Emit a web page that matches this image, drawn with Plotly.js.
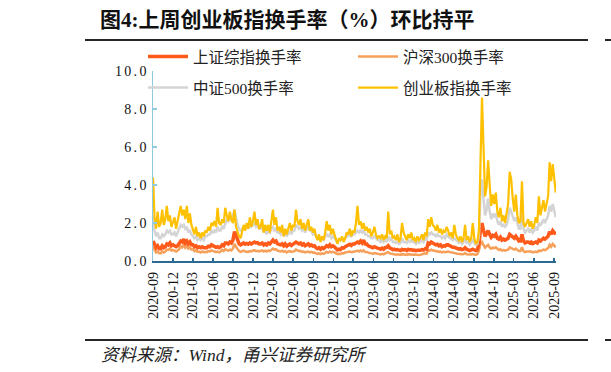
<!DOCTYPE html>
<html><head><meta charset="utf-8">
<script src="https://cdn.plot.ly/plotly-3.0.1.min.js"></script>
<style>
html,body{margin:0;padding:0;background:#fff;}
#wrap{position:relative;width:611px;height:372px;}
#chart{width:611px;height:372px;}
.rule{position:absolute;height:1.6px;background:#262626;z-index:20;}
.ytick text{letter-spacing:2.3px;}
</style>
</head><body><div id="wrap"><div id="chart"></div>
<div class="rule" style="left:85px;width:503px;top:39px"></div>
<div class="rule" style="left:605px;width:6px;top:39px"></div>
<div class="rule" style="left:85px;width:503px;top:339px"></div>
<div class="rule" style="left:605px;width:6px;top:339px"></div>
</div>
<script>
const startDate = '2020-09-01';
const seriesNames = ['上证综指换手率','沪深300换手率','中证500换手率','创业板指换手率'];
const chartTitle = '图4:上周创业板指换手率（%）环比持平';
const sourceText = '资料来源：Wind，甬兴证券研究所';

// weekly values, one line per month
const shComp = [
1.05,0.85,0.7,0.8,0.65, 0.65,0.8,0.7,0.75, 0.9,0.85,0.95,0.8, 0.85,0.8,0.75,0.8,0.9,
1.05,1.0,1.15,0.95, 1.05,0.9,1.0,0.85, 0.85,0.75,0.8,0.7,0.75, 0.7,0.75,0.7,0.72, 0.7,0.78,0.75,0.85,
0.8,0.78,0.72,0.75,0.7, 0.75,0.85,0.8,0.95, 0.95,0.9,1.0,0.95,1.1, 1.55,1.35,1.05,0.9, 0.85,0.9,0.95,0.88,
0.92,0.88,0.95,0.9,0.97, 1.0,0.95,0.97,0.9,
0.9,0.95,0.85,0.9, 0.85,0.95,0.9,1.0, 1.1,1.0,1.05,0.9,0.88, 0.85,0.9,0.8,0.9, 0.78,0.85,0.9,0.82,0.88,
0.9,1.0,0.95,0.9, 0.95,0.85,0.9,0.8, 0.85,0.9,0.8,0.85,0.78, 0.8,0.7,0.65,0.7, 0.62,0.7,0.65,0.72,
0.8,0.75,0.85,0.75,0.8, 0.75,0.65,0.58,0.62,
0.6,0.7,0.68,0.75,0.8, 0.8,0.88,0.82,0.9, 0.9,0.95,1.0,0.95, 1.05,0.95,1.1,0.9, 0.9,0.8,0.78,0.72,0.7,
0.75,0.7,0.68,0.66, 0.62,0.68,0.62,0.7, 0.72,0.8,0.68,0.65,0.6, 0.62,0.58,0.6,0.55, 0.55,0.62,0.58,0.6,0.55,
0.62,0.58,0.6,0.56, 0.58,0.54,0.56,0.55,
0.56,0.6,0.58,0.65,0.62, 0.95,0.9,1.0,0.92, 0.9,0.85,0.88,0.8, 0.85,0.75,0.8,0.78,0.85, 0.85,0.8,0.78,0.72,
0.72,0.68,0.65,0.62, 0.65,0.6,0.62,0.7,0.62, 0.6,0.55,0.58,0.62, 0.58,0.55,0.6,0.9, 1.6,2.0,1.6,1.3,1.45,
1.6,1.4,1.25,1.35, 1.3,1.4,1.2,1.15,1.25,
1.1,1.15,1.1,1.15, 1.2,1.4,1.35,1.25, 1.2,1.3,1.15,1.05, 1.05,1.4,1.05,0.95,1.0, 1.0,0.95,1.0,0.92,
0.95,1.0,0.95,1.1, 1.05,1.1,1.2,1.15,1.25, 1.3,1.55,1.4,1.6, 1.5,1.4
];
const hs300 = [
0.75,0.55,0.45,0.5,0.42, 0.4,0.5,0.45,0.5, 0.6,0.58,0.65,0.55, 0.58,0.55,0.5,0.55,0.62,
0.78,0.72,0.85,0.7, 0.8,0.65,0.72,0.6, 0.62,0.52,0.56,0.48,0.5, 0.45,0.5,0.46,0.48, 0.46,0.52,0.5,0.56,
0.52,0.5,0.47,0.5,0.46, 0.5,0.58,0.52,0.62, 0.58,0.55,0.6,0.56,0.65, 0.9,0.75,0.6,0.52, 0.48,0.5,0.55,0.5,
0.5,0.48,0.52,0.5,0.55, 0.56,0.52,0.54,0.5,
0.52,0.56,0.5,0.54, 0.5,0.56,0.52,0.58, 0.65,0.6,0.62,0.54,0.52, 0.5,0.54,0.48,0.52, 0.45,0.5,0.52,0.48,0.5,
0.52,0.6,0.56,0.52, 0.54,0.48,0.5,0.45, 0.48,0.5,0.45,0.48,0.44, 0.45,0.4,0.37,0.4, 0.36,0.4,0.37,0.42,
0.48,0.44,0.5,0.45,0.48, 0.45,0.4,0.36,0.38,
0.37,0.42,0.4,0.45,0.48, 0.47,0.5,0.46,0.5, 0.5,0.52,0.55,0.5, 0.55,0.5,0.56,0.48, 0.48,0.44,0.42,0.4,0.38,
0.42,0.4,0.38,0.37, 0.35,0.38,0.35,0.4, 0.42,0.46,0.4,0.38,0.35, 0.36,0.33,0.35,0.32, 0.32,0.36,0.34,0.35,0.32,
0.36,0.34,0.35,0.33, 0.34,0.32,0.33,0.32,
0.33,0.36,0.35,0.4,0.38, 0.58,0.55,0.6,0.55, 0.55,0.5,0.52,0.48, 0.5,0.45,0.48,0.46,0.5, 0.5,0.47,0.46,0.42,
0.42,0.4,0.38,0.36, 0.38,0.35,0.36,0.42,0.36, 0.35,0.32,0.34,0.37, 0.34,0.32,0.36,0.55, 0.9,1.0,0.85,0.7,0.78,
0.85,0.72,0.65,0.7, 0.68,0.72,0.62,0.58,0.62,
0.55,0.58,0.55,0.58, 0.6,0.72,0.68,0.62, 0.6,0.65,0.56,0.52, 0.52,0.72,0.52,0.47,0.5, 0.5,0.47,0.5,0.45,
0.47,0.5,0.47,0.55, 0.52,0.56,0.6,0.57,0.62, 0.68,0.85,0.75,0.9, 0.8,0.72
];
const zz500 = [
2.4,1.6,1.3,1.5,1.2, 1.2,1.4,1.3,1.4, 1.6,1.5,1.6,1.4, 1.4,1.5,1.3,1.5,1.7,
1.9,1.8,1.9,1.7, 1.8,1.5,1.6,1.4, 1.3,1.2,1.3,1.1,1.2, 1.1,1.2,1.1,1.3, 1.3,1.4,1.4,1.6,
1.5,1.6,1.5,1.8,1.6, 1.6,1.8,1.7,2.0, 2.2,2.1,2.3,2.1,2.4, 2.7,2.3,1.9,1.7, 1.6,1.7,1.8,1.7,
1.9,1.7,1.9,1.8,1.9, 2.0,1.8,1.9,1.7,
1.7,1.8,1.5,1.6, 1.4,1.6,1.5,1.7, 1.8,1.6,1.7,1.5,1.5, 1.4,1.6,1.3,1.5, 1.3,1.5,1.6,1.4,1.6,
1.6,1.9,1.8,1.7, 1.8,1.6,1.7,1.5, 1.7,1.8,1.6,1.6,1.4, 1.5,1.3,1.2,1.3, 1.1,1.2,1.1,1.3,
1.4,1.3,1.4,1.2,1.3, 1.2,1.1,1.0,1.1,
1.1,1.2,1.1,1.2,1.3, 1.3,1.4,1.3,1.4, 1.4,1.5,1.6,1.5, 1.6,1.5,1.6,1.4, 1.4,1.3,1.3,1.2,1.2,
1.3,1.2,1.1,1.1, 1.0,1.1,1.0,1.1, 1.0,1.3,1.1,1.2,1.0, 1.0,0.95,1.0,0.9, 0.95,1.2,1.0,1.0,0.95,
1.1,1.0,1.1,1.0, 1.0,0.9,1.0,0.95,
1.0,1.1,1.0,1.2,1.1, 1.5,1.4,1.5,1.4, 1.4,1.3,1.4,1.3, 1.3,1.2,1.3,1.2,1.4, 1.3,1.2,1.2,1.1,
1.2,1.1,1.0,0.95, 1.0,0.9,1.0,1.2,0.95, 1.0,0.85,0.95,1.1, 0.95,0.85,0.9,1.3, 3.4,4.3,3.3,2.4,2.7,
3.3,2.6,2.2,2.5, 2.3,2.5,2.1,1.9,2.1,
1.8,1.9,1.8,1.9, 2.2,2.8,2.6,2.3, 2.1,2.3,1.9,1.7, 1.7,2.6,1.7,1.5,1.6, 1.7,1.5,1.7,1.5,
1.6,1.8,1.6,2.0, 1.9,2.0,2.2,2.0,2.2, 2.4,2.9,2.6,3.0, 2.6,2.3
];
const cyb = [
4.4,2.3,1.7,2.6,1.8, 2.0,2.7,1.9,2.2, 2.9,2.1,2.4,1.8, 2.0,2.3,1.7,2.1,2.5,
2.9,2.4,2.7,2.2, 2.9,2.0,2.5,1.9, 1.7,1.4,1.8,1.3,1.5, 1.2,1.5,1.3,1.6, 1.5,1.8,1.6,2.0,
1.9,2.1,1.8,2.8,2.0, 1.9,2.2,2.0,2.8, 2.4,2.1,2.6,2.2,2.0, 2.7,1.8,1.5,1.3, 1.2,1.6,1.9,1.6,
2.0,1.7,2.3,1.8,2.1, 2.6,1.9,2.2,1.7,
1.8,2.2,1.5,1.9, 1.6,1.9,1.5,2.1, 2.7,1.9,2.3,1.6,1.8, 1.5,1.9,1.3,1.7, 1.4,1.8,2.0,1.6,1.9,
1.8,2.7,2.1,1.9, 2.2,1.7,2.0,1.6, 1.9,2.2,1.6,1.8,1.5, 1.7,1.3,1.1,1.4, 1.0,1.3,1.1,1.5,
2.1,1.6,1.9,1.4,1.7, 1.4,1.1,0.9,1.2,
1.1,1.3,1.0,1.2,1.5, 1.4,1.7,1.3,1.6, 1.5,2.0,2.9,1.9, 2.1,1.7,2.0,1.6, 1.8,1.5,1.7,1.3,1.5,
1.8,1.4,1.2,1.3, 1.2,1.4,1.1,1.3, 1.2,2.6,1.4,1.6,1.2, 1.3,1.1,1.4,1.0, 1.2,2.0,1.5,1.3,1.1,
1.4,1.2,1.5,1.1, 1.2,1.0,1.3,1.1,
1.2,1.4,1.1,1.5,1.3, 2.2,1.8,2.3,1.9, 1.8,1.6,1.9,1.5, 1.7,1.4,1.6,1.5,1.8, 1.6,1.3,1.5,1.2,
1.9,1.4,1.2,1.1, 1.3,1.0,1.2,1.9,1.1, 1.3,1.0,1.2,2.0, 1.2,0.9,1.0,1.6, 5.0,8.6,6.0,3.4,3.9,
5.3,4.0,2.9,3.5, 3.0,3.6,2.6,2.3,2.8,
2.1,2.4,2.0,2.6, 3.0,4.7,4.3,3.3, 2.6,3.5,2.4,2.0, 2.1,4.2,2.0,1.8,2.0, 2.2,1.8,2.1,1.7,
1.9,2.3,2.0,3.4, 2.4,2.8,3.2,2.6,3.0, 3.4,5.2,4.2,5.1, 4.3,3.6
];

function weeklyDates(start, n) {
  const out = []; const d0 = new Date(start + 'T00:00:00Z');
  for (let i = 0; i < n; i++) { const d = new Date(d0.getTime() + i * 7 * 86400000); out.push(d.toISOString().slice(0, 10)); }
  return out;
}

const W = 611, H = 372;
const L = 153, R = 556, T = 71, B = 261;
const px = x => (x - L) / (R - L);
const py = y => (B - y) / (B - T);
const serif = 'Liberation Serif, Noto Sans CJK SC, serif';

const colors = ['#FF5A1A', '#F6A05A', '#D4D4D4', '#FFC000'];
const widths = [3.5, 2.5, 2.5, 2.2];
const data = [shComp, hs300, zz500, cyb];
const legendIds = ['legend', 'legend2', 'legend3', 'legend4'];
const legendPos = [[143, 57], [353, 57], [143, 88], [353, 88]];
const drawOrder = [1, 0, 2, 3];

const traces = drawOrder.map(i => ({
  type: 'scatter', mode: 'lines', name: seriesNames[i],
  x: weeklyDates(startDate, data[i].length), y: data[i],
  line: {color: colors[i], width: widths[i]},
  legend: legendIds[i]
}));

const layout = {
  width: W, height: H,
  margin: {l: L, r: W - R, t: T, b: H - B, pad: 0, autoexpand: false},
  paper_bgcolor: 'rgba(0,0,0,0)', plot_bgcolor: 'rgba(0,0,0,0)',
  showlegend: true,
  title: {text: chartTitle, xref: 'container', yref: 'container', x: 100 / W, xanchor: 'left',
          y: 1 - 20 / H, yanchor: 'middle', automargin: false,
          font: {family: serif, size: 21, color: '#111', weight: 'bold'}},
  xaxis: {
    type: 'date', range: ['2020-09-01', '2025-09-10'], tick0: '2020-09-01', dtick: 'M3',
    tickformat: '%Y-%m', tickangle: -90, ticks: 'inside', ticklen: 3, tickwidth: 1.5,
    tickcolor: '#2A6A94', showline: true, linecolor: '#2A6A94', linewidth: 1.5, ticklabelstandoff: 4,
    showgrid: false, zeroline: false, tickfont: {family: serif, size: 14, color: '#111'}
  },
  yaxis: {
    range: [0, 10], dtick: 2, tick0: 0, tickformat: '.1f', ticks: 'inside', ticklen: 4, tickwidth: 1.5,
    tickcolor: '#8FCBE0', showline: true, linecolor: '#8FCBE0', linewidth: 1.5,
    showgrid: false, zeroline: false, tickfont: {family: serif, size: 14, color: '#111'}
  },
  annotations: [
    {text: sourceText, xref: 'paper', yref: 'paper', x: px(99), y: py(355), xanchor: 'left', yanchor: 'middle',
     showarrow: false, font: {family: serif, size: 17.5, color: '#222', style: 'italic'}}
  ]
};
legendIds.forEach((id, k) => {
  layout[id] = {
    orientation: 'h', xref: 'container', yref: 'container', xanchor: 'left', yanchor: 'middle',
    x: legendPos[k][0] / W, y: 1 - legendPos[k][1] / H, itemwidth: 40, bgcolor: 'rgba(0,0,0,0)',
    font: {family: serif, size: 15.5, color: '#222'}
  };
});

Plotly.newPlot('chart', traces, layout, {staticPlot: true, displayModeBar: false});
</script>
</body></html>
